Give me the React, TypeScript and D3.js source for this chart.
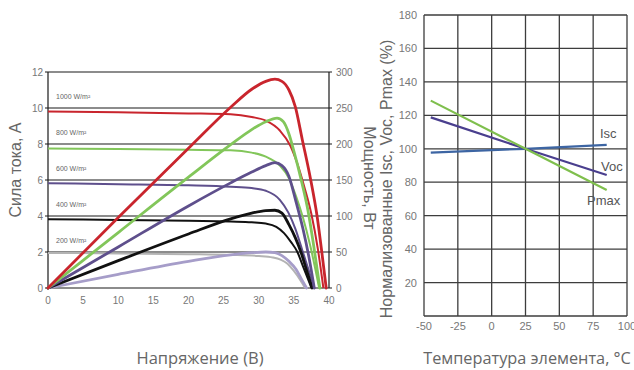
import React from "react";
import * as d3 from "d3";

// --- data ---
const voltTicks = [0, 5, 10, 15, 20, 25, 30, 35, 40];
const currentTicks = [0, 2, 4, 6, 8, 10, 12];
const powerTicks = [0, 50, 100, 150, 200, 250, 300];
const irradianceLabels = ["1000 W/m²", "800 W/m²", "600 W/m²", "400 W/m²", "200 W/m²"];
const labelLevels = [10, 8, 6, 4, 2];

// I-V curves [voltage, current A]
const iv1000 = [[0, 9.8], [10, 9.76], [20, 9.7], [26, 9.65], [29, 9.5], [31, 9.3], [33, 8.75], [34.5, 7.9], [35.5, 6.9], [36.5, 5.6], [37.5, 4.1], [38.4, 2.2], [39.2, 0]];
const iv800 = [[0, 7.75], [10, 7.72], [20, 7.68], [26, 7.65], [29, 7.52], [31, 7.3], [33, 6.8], [34.3, 6.1], [35.3, 5.1], [36.3, 3.9], [37.3, 2.4], [38.6, 0]];
const iv600 = [[0, 5.82], [10, 5.77], [20, 5.71], [26, 5.63], [29, 5.55], [31, 5.4], [33, 4.9], [34.2, 4.2], [35.2, 3.3], [36.2, 2.1], [37.1, 1.0], [37.9, 0]];
const iv400 = [[0, 3.82], [10, 3.78], [20, 3.74], [26, 3.69], [29, 3.65], [31, 3.58], [32.5, 3.4], [33.6, 3.05], [34.6, 2.55], [35.5, 2.0], [36.3, 1.2], [37, 0.5], [37.5, 0]];
const iv200 = [[0, 1.95], [10, 1.92], [20, 1.88], [26, 1.84], [30, 1.78], [32, 1.7], [33.1, 1.58], [34, 1.38], [35, 0.95], [35.9, 0.45], [36.6, 0]];

// P-V curves [voltage, power W]
const pv1000 = [[0, 0], [10, 98], [20, 194], [26, 251], [29, 276], [31, 287], [32.3, 290], [33.3, 287], [34.3, 275], [35.2, 252], [36.2, 206], [37.4, 150], [38.3, 100], [39, 48], [39.6, 0]];
const pv800 = [[0, 0], [10, 77], [20, 154], [26, 199], [29, 220], [31, 231], [32.6, 236], [33.5, 231], [34.3, 214], [35, 190], [36, 152], [37, 108], [37.8, 60], [38.7, 0]];
const pv600 = [[0, 0], [10, 57], [20, 114], [26, 146], [29, 161], [31, 170], [32.3, 174], [33.3, 170], [34.3, 155], [35.3, 120], [36.3, 82], [37.2, 40], [37.9, 0]];
const pv400 = [[0, 0], [10, 38], [20, 75], [26, 96], [29, 104], [31, 107.5], [32.3, 108], [33.3, 104], [34.3, 88], [35.2, 70], [36, 50], [36.8, 25], [37.6, 0]];
const pv200 = [[0, 0], [10, 19], [20, 37], [26, 46], [29, 49], [31, 50], [32.3, 49], [33.3, 45], [34.3, 37], [35.3, 26], [36.1, 12], [36.8, 0]];

const tempTicks = [-50, -25, 0, 25, 50, 75, 100];
const pctTicks = [20, 40, 60, 80, 100, 120, 140, 160, 180];
const pctGrid = [0, 20, 40, 60, 80, 100, 120, 140, 160, 180];
const iscLine = [[-45, 97.7], [25, 100], [85, 102.3]];
const vocLine = [[-45, 118.8], [25, 100], [85, 84.3]];
const pmaxLine = [[-45, 128.8], [25, 100], [85, 75.4]];

const RED = "#c9252d";
const GREEN = "#82c65a";
const PURPLE = "#5e4f8c";
const BLACK = "#111111";
const GREY = "#b3b3b3";
const LILAC = "#a69dc9";

const tickFont = "'Liberation Sans', Arial, sans-serif";
const titleFont = "'Open Sans', 'Liberation Sans', sans-serif";

export default function App() {
  // left chart scales
  const xV = d3.scaleLinear().domain([0, 40]).range([48, 329]);
  const yI = d3.scaleLinear().domain([0, 12]).range([288, 72]);
  const yP = d3.scaleLinear().domain([0, 300]).range([288, 72]);

  const ivLine = d3.line<number[]>().x((d) => xV(d[0])).y((d) => yI(d[1])).curve(d3.curveMonotoneX);
  const pvLine = d3.line<number[]>().x((d) => xV(d[0])).y((d) => yP(d[1])).curve(d3.curveMonotoneX);

  const ivSeries = [
    { d: iv200, c: GREY },
    { d: iv400, c: BLACK },
    { d: iv600, c: PURPLE },
    { d: iv800, c: GREEN },
    { d: iv1000, c: RED },
  ];
  const pvSeries = [
    { d: pv200, c: LILAC },
    { d: pv400, c: BLACK },
    { d: pv600, c: PURPLE },
    { d: pv800, c: GREEN },
    { d: pv1000, c: RED },
  ];

  // right chart scales
  const xT = d3.scaleLinear().domain([-50, 100]).range([424, 627]);
  const yPct = d3.scaleLinear().domain([0, 180]).range([316, 15]);
  const tLine = d3.line<number[]>().x((d) => xT(d[0])).y((d) => yPct(d[1]));

  const tSeries = [
    { d: iscLine, c: "#3d65a3", name: "Isc" },
    { d: vocLine, c: "#4a3f8e", name: "Voc" },
    { d: pmaxLine, c: "#7fbf4d", name: "Pmax" },
  ];

  return (
    <svg width={634} height={370} style={{ position: "absolute", left: 0, top: 0, background: "#fff" }}>
      {/* ---------- left chart ---------- */}
      <g>
        {currentTicks.map((t) => (
          <line key={"g" + t} x1={xV(0) - 3} x2={xV(40) + 3} y1={yI(t)} y2={yI(t)} stroke="#1a1a1a" strokeWidth={1.2} />
        ))}
        <line x1={xV(0)} x2={xV(0)} y1={yI(12)} y2={yI(0)} stroke="#1a1a1a" strokeWidth={1.2} />
        <line x1={xV(40)} x2={xV(40)} y1={yI(12)} y2={yI(0)} stroke="#1a1a1a" strokeWidth={1.2} />
        {voltTicks.map((t) => (
          <text key={"xv" + t} x={xV(t)} y={304} textAnchor="middle" fontSize={10} fill="#777" fontFamily={tickFont}>{t}</text>
        ))}
        {currentTicks.map((t) => (
          <text key={"yi" + t} x={43} y={yI(t) + 3.5} textAnchor="end" fontSize={10} fill="#777" fontFamily={tickFont}>{t}</text>
        ))}
        {powerTicks.map((t) => (
          <text key={"yp" + t} x={336} y={yP(t) + 3.5} textAnchor="start" fontSize={10} fill="#777" fontFamily={tickFont}>{t}</text>
        ))}
        {irradianceLabels.map((l, i) => (
          <text key={l} x={56} y={yI(labelLevels[i]) - 9} fontSize={7} fill="#666" fontFamily={tickFont}>{l}</text>
        ))}
        {ivSeries.map((s, i) => (
          <path key={"iv" + i} d={ivLine(s.d) || ""} fill="none" stroke={s.c} strokeWidth={2} />
        ))}
        {pvSeries.map((s, i) => (
          <path key={"pv" + i} d={pvLine(s.d) || ""} fill="none" stroke={s.c} strokeWidth={2.8} strokeLinecap="round" />
        ))}
        <text transform="translate(21,170) rotate(-90)" textAnchor="middle" fontSize={16} fill="#666" fontFamily={tickFont}>Сила тока, А</text>
        <text transform="translate(364,178) rotate(90)" textAnchor="middle" fontSize={16} fill="#666" fontFamily={tickFont}>Мощность, Вт</text>
        <text x={200} y={364} textAnchor="middle" fontSize={16.5} fill="#666" fontFamily={titleFont}>Напряжение (В)</text>
      </g>

      {/* ---------- right chart ---------- */}
      <g>
        {pctGrid.map((t) => (
          <line key={"rg" + t} x1={xT(-50)} x2={xT(100)} y1={yPct(t)} y2={yPct(t)} stroke="#3d3d3d" strokeWidth={1.3} />
        ))}
        {tempTicks.map((t) => (
          <line key={"rv" + t} x1={xT(t)} x2={xT(t)} y1={yPct(180)} y2={yPct(0)} stroke="#3d3d3d" strokeWidth={1.3} />
        ))}
        {pctTicks.map((t) => (
          <text key={"rp" + t} x={417} y={yPct(t) + 4} textAnchor="end" fontSize={11} fill="#777" fontFamily={tickFont}>{t}</text>
        ))}
        {tempTicks.map((t) => (
          <text key={"rt" + t} x={xT(t)} y={330} textAnchor="middle" fontSize={11} fill="#777" fontFamily={tickFont}>{t}</text>
        ))}
        {tSeries.map((s) => (
          <path key={s.name} d={tLine(s.d) || ""} fill="none" stroke={s.c} strokeWidth={2.2} />
        ))}
        <text x={600} y={138} fontSize={13} fill="#555" fontFamily={tickFont}>Isc</text>
        <text x={601} y={171} fontSize={13} fill="#555" fontFamily={tickFont}>Voc</text>
        <text x={587} y={205} fontSize={13} fill="#555" fontFamily={tickFont}>Pmax</text>
        <text transform="translate(392,179) rotate(-90)" textAnchor="middle" fontSize={16} fill="#666" fontFamily={tickFont}>Нормализованные Isc, Voc, Pmax (%)</text>
        <text x={527} y={364} textAnchor="middle" fontSize={16.3} fill="#666" fontFamily={titleFont}>Температура элемента, °C</text>
      </g>
    </svg>
  );
}
